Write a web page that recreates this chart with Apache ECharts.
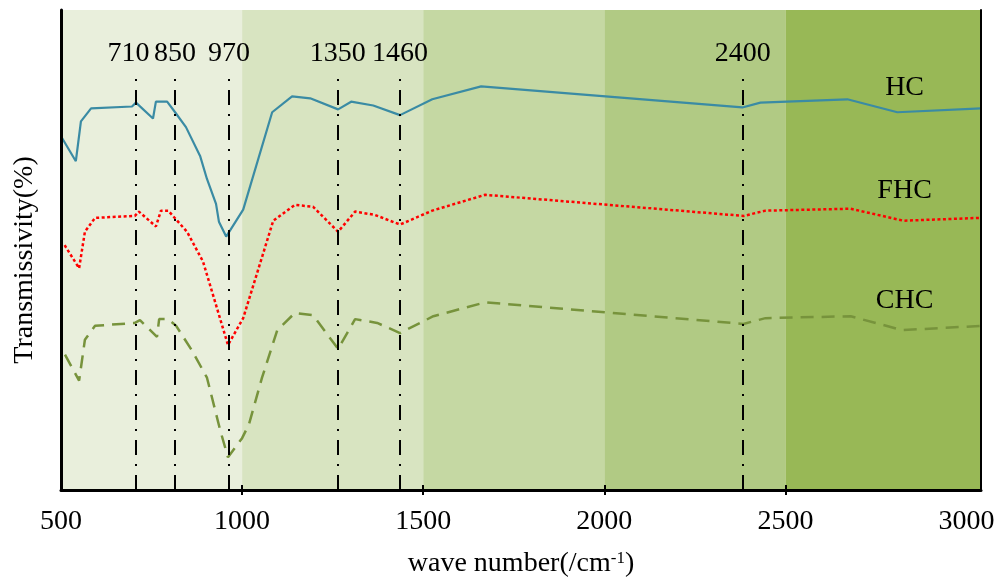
<!DOCTYPE html>
<html>
<head>
<meta charset="utf-8">
<script src="https://cdn.jsdelivr.net/npm/echarts@6/dist/echarts.min.js"></script>
<style>html,body{margin:0;padding:0;background:#fff;}#c{width:998px;height:583px;}</style>
</head>
<body>
<div id="c"></div>
<script>
// ---- data ----
const xTicks = [500, 1000, 1500, 2000, 2500, 3000];
const innerTicks = [1000, 1500, 2000, 2500];
const bandEdges = [500, 1000, 1500, 2000, 2500, 3040];

const hcWave = [500, 541, 555, 583, 696, 707, 754, 762, 793, 815, 845, 884, 903, 928, 936, 956, 1003, 1083, 1138, 1188, 1265, 1301, 1362, 1436, 1525, 1660, 2381, 2431, 2671, 2809, 3040];
const hcT    = [73.7, 68.5, 76.8, 79.5, 79.9, 80.7, 77.4, 80.9, 80.9, 78.7, 75.6, 69.6, 64.8, 59.6, 55.9, 52.8, 58.4, 78.7, 82.0, 81.6, 79.3, 80.9, 80.1, 78.1, 81.4, 84.1, 79.7, 80.7, 81.4, 78.7, 79.5];

const fhcWave = [510, 550, 566, 594, 704, 715, 762, 776, 796, 809, 848, 892, 925, 961, 1003, 1086, 1146, 1196, 1265, 1312, 1367, 1436, 1525, 1671, 2385, 2445, 2680, 2826, 3040];
const fhcT    = [51.0, 46.2, 53.8, 56.7, 57.1, 58.0, 54.9, 58.2, 58.2, 57.1, 53.8, 47.6, 39.3, 30.2, 35.8, 56.1, 59.4, 59.0, 53.8, 58.0, 57.3, 55.3, 58.2, 61.5, 57.1, 58.2, 58.6, 56.1, 56.7];

const chcWave = [511, 550, 566, 594, 704, 718, 765, 771, 796, 818, 862, 903, 939, 961, 1000, 1019, 1055, 1097, 1146, 1196, 1265, 1312, 1373, 1436, 1528, 1671, 2384, 2445, 2680, 2823, 3040];
const chcT    = [28.2, 22.8, 31.3, 34.2, 34.8, 35.4, 31.9, 35.6, 35.6, 34.2, 29.0, 23.4, 12.6, 6.8, 10.8, 13.7, 23.4, 33.3, 36.9, 36.4, 29.4, 35.6, 34.8, 32.7, 36.2, 39.1, 34.6, 35.8, 36.2, 33.3, 34.2];

const peakWave = [706, 815, 964, 1264, 1436, 2382];
const peakLabels = ['710', '850', '970', '1350', '1460', '2400'];
const peakTop = 86.5;

const seriesNames = ['HC', 'FHC', 'CHC'];
const nameLabelPos = [[2829, 83.9], [2829, 62.3], [2829, 39.5]];

// ---- styling ----
const FONT = "'Liberation Serif', 'Times New Roman', serif";
const FS = 28;
const bandColors = ['#e9efdc', '#d8e4c1', '#c5d8a3', '#b1ca84', '#98b856'];
const lineColors = ['#3a8ba4', '#ff0000', '#77933c'];

const zip = (a, b) => a.map((v, i) => [v, b[i]]);

function nameMark(i) {
  return {
    symbol: 'circle', symbolSize: 0, silent: true,
    label: { show: true, position: 'inside', formatter: seriesNames[i], color: '#000', fontFamily: FONT, fontSize: FS },
    data: [{ coord: nameLabelPos[i] }]
  };
}

const chart = echarts.init(document.getElementById('c'));
const axisCommon = {
  type: 'value', min: 500, max: 3040, interval: 500,
  splitLine: { show: false }, z: 10
};
chart.setOption({
  animation: false,
  grid: { left: 61, right: 17, top: 10, bottom: 90 },
  xAxis: [
    Object.assign({}, axisCommon, {
      position: 'bottom',
      axisLine: { show: true, lineStyle: { color: '#000', width: 3 } },
      axisTick: { show: true, inside: true, length: 5, customValues: innerTicks, lineStyle: { color: '#000', width: 2 } },
      axisLabel: {
        color: '#000', fontFamily: FONT, fontSize: FS, margin: 18,
        customValues: xTicks,
        formatter: v => String(v)
      },
      name: '{a|wave number(/cm}{s|-1}{a|)}',
      nameLocation: 'middle', nameGap: 60,
      nameTextStyle: {
        rich: {
          a: { fontFamily: FONT, fontSize: FS, color: '#000' },
          s: { fontFamily: FONT, fontSize: 17, color: '#000', verticalAlign: 'top' }
        }
      }
    }),
    Object.assign({}, axisCommon, {
      position: 'top',
      axisLine: { show: true, lineStyle: { color: '#000', width: 2 } },
      axisTick: { show: true, inside: true, length: 5, customValues: innerTicks, lineStyle: { color: '#000', width: 2 } },
      axisLabel: { show: false }
    })
  ],
  yAxis: [
    {
      type: 'value', min: 0, max: 100, position: 'left', z: 10,
      splitLine: { show: false },
      axisLine: { show: true, lineStyle: { color: '#000', width: 3 } },
      axisTick: { show: false }, axisLabel: { show: false },
      name: 'Transmissivity(%)', nameLocation: 'middle', nameGap: 22,
      nameTextStyle: { fontFamily: FONT, fontSize: FS, color: '#000', padding: [0, 20, 0, 0] }
    },
    {
      type: 'value', min: 0, max: 100, position: 'right', z: 10,
      splitLine: { show: false },
      axisLine: { show: true, lineStyle: { color: '#000', width: 2 } },
      axisTick: { show: false }, axisLabel: { show: false }
    }
  ],
  series: [
    {
      name: 'bands', type: 'line', data: [], z: 1, silent: true,
      markArea: {
        silent: true,
        data: bandColors.map((c, i) => [
          { xAxis: bandEdges[i], itemStyle: { color: c } },
          { xAxis: bandEdges[i + 1] }
        ])
      }
    },
    {
      name: 'HC', type: 'line', z: 3, data: zip(hcWave, hcT),
      symbol: 'none', lineStyle: { color: lineColors[0], width: 2.2 },
      markPoint: nameMark(0)
    },
    {
      name: 'FHC', type: 'line', z: 3, data: zip(fhcWave, fhcT),
      symbol: 'none', lineStyle: { color: lineColors[1], width: 2.5, type: [3, 2.5] },
      markPoint: nameMark(1)
    },
    {
      name: 'CHC', type: 'line', z: 3, data: zip(chcWave, chcT),
      symbol: 'none', lineStyle: { color: lineColors[2], width: 2.5, type: [13, 8] },
      markPoint: nameMark(2)
    },
    {
      name: 'peaks', type: 'line', data: [], z: 4, silent: true,
      markLine: {
        silent: true, symbol: ['none', 'none'],
        lineStyle: { color: '#000', width: 2, type: [15, 9, 2, 9] },
        label: { show: true, position: 'end', distance: 7, color: '#000', fontFamily: FONT, fontSize: FS, formatter: '{b}' },
        data: peakWave.map((w, i) => [
          { coord: [w, 0], name: peakLabels[i] },
          { coord: [w, peakTop], label: i === 0 ? { offset: [-7, 0] } : undefined }
        ])
      }
    }
  ]
});
</script>
</body>
</html>
